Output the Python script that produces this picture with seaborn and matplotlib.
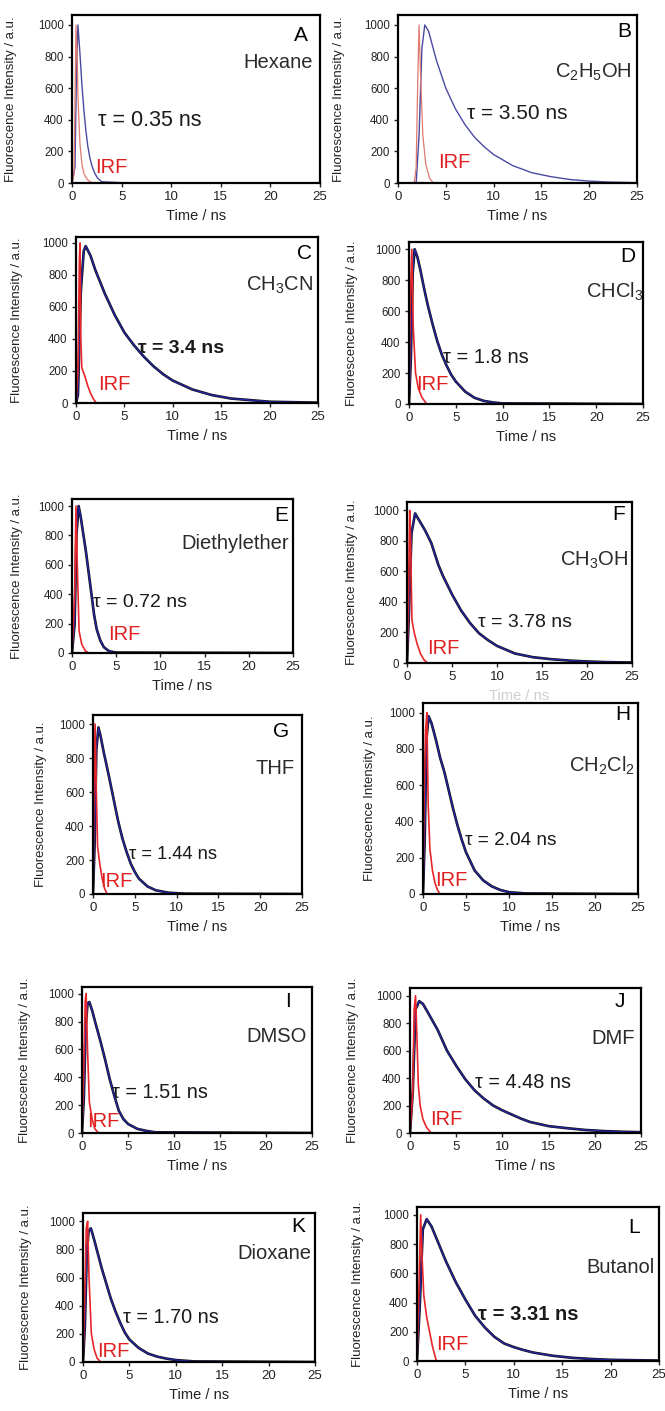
import matplotlib
matplotlib.use("Agg")
import matplotlib.pyplot as plt
import seaborn as sns

# ---------------- data ----------------
panel_letters = ['A', 'B', 'C', 'D', 'E', 'F', 'G', 'H', 'I', 'J', 'K', 'L']
solvents = ['Hexane', r'C$_\mathrm{2}$H$_\mathrm{5}$OH', r'CH$_\mathrm{3}$CN', r'CHCl$_\mathrm{3}$',
            'Diethylether', r'CH$_\mathrm{3}$OH', 'THF', r'CH$_\mathrm{2}$Cl$_\mathrm{2}$',
            'DMSO', 'DMF', 'Dioxane', 'Butanol']
tau_labels = ['τ = 0.35 ns', 'τ = 3.50 ns', 'τ = 3.4 ns', 'τ = 1.8 ns',
              'τ = 0.72 ns', 'τ = 3.78 ns', 'τ = 1.44 ns', 'τ = 2.04 ns',
              'τ = 1.51 ns', 'τ = 4.48 ns', 'τ = 1.70 ns', 'τ = 3.31 ns']
irf_label = 'IRF'
x_ticks = [0, 5, 10, 15, 20, 25]
y_ticks = [0, 200, 400, 600, 800, 1000]

A_decay_t = [0, 0.3, 0.45, 0.6, 0.8, 1.0, 1.2, 1.4, 1.6, 1.8, 2.0, 2.3, 2.6, 3.0, 5, 25]
A_decay_I = [0, 100, 700, 1000, 820, 620, 460, 330, 230, 160, 110, 60, 30, 8, 2, 0]
A_irf_t = [0, 0.2, 0.3, 0.4, 0.5, 0.6, 0.8, 1.0, 1.2, 1.5, 1.8, 2.2, 25]
A_irf_I = [0, 50, 500, 1000, 850, 550, 250, 120, 60, 25, 8, 0, 0]

B_decay_t = [0, 1.9, 2.2, 2.5, 2.8, 3.2, 4, 5, 6, 7, 8, 9, 10, 12, 14, 16, 18, 20, 22, 25]
B_decay_I = [0, 0, 300, 850, 1000, 960, 780, 600, 470, 370, 290, 230, 180, 110, 65, 40, 22, 12, 6, 2]
B_irf_t = [0, 1.7, 1.9, 2.05, 2.2, 2.35, 2.6, 2.9, 3.3, 3.7, 25]
B_irf_I = [0, 0, 100, 600, 1000, 700, 300, 120, 30, 0, 0]

C_decay_t = [0, 0.2, 0.5, 0.8, 1.0, 1.5, 2, 3, 4, 5, 6, 7, 8, 9, 10, 12, 14, 16, 20, 25]
C_decay_I = [0, 50, 700, 950, 980, 920, 830, 680, 550, 440, 360, 290, 230, 180, 140, 85, 50, 28, 8, 2]
C_irf_t = [0, 0.2, 0.35, 0.42, 0.5, 0.6, 0.9, 1.2, 1.5, 1.8, 2.1, 25]
C_irf_I = [0, 200, 900, 1000, 400, 220, 170, 110, 60, 25, 0, 0]

D_decay_t = [0, 0.2, 0.4, 0.6, 0.9, 1.2, 1.6, 2, 2.5, 3, 3.5, 4, 4.5, 5, 6, 7, 8, 9, 10, 25]
D_decay_I = [0, 300, 850, 1000, 950, 870, 750, 640, 520, 410, 320, 250, 190, 145, 80, 40, 20, 10, 4, 0]
D_irf_t = [0, 0.15, 0.3, 0.45, 0.7, 1.0, 1.4, 1.9, 25]
D_irf_I = [0, 700, 1000, 500, 200, 100, 40, 0, 0]

E_decay_t = [0, 0.3, 0.5, 0.75, 1.0, 1.3, 1.6, 1.9, 2.2, 2.5, 2.8, 3.2, 3.6, 4.2, 5, 25]
E_decay_I = [0, 200, 800, 1000, 920, 800, 680, 540, 400, 260, 160, 85, 40, 12, 3, 0]
E_irf_t = [0, 0.3, 0.45, 0.6, 0.8, 1.1, 1.5, 1.9, 25]
E_irf_I = [0, 400, 1000, 600, 150, 60, 15, 0, 0]

F_decay_t = [0, 0.2, 0.5, 0.9, 1.3, 2, 2.7, 3.5, 4, 5, 6, 7, 8, 9, 10, 12, 14, 16, 18, 20, 22, 25]
F_decay_I = [0, 300, 850, 980, 940, 870, 786, 640, 570, 450, 345, 262, 195, 150, 112, 62, 38, 25, 16, 10, 6, 3]
F_irf_t = [0, 0.15, 0.3, 0.4, 0.55, 0.8, 1.1, 1.5, 1.9, 2.3, 25]
F_irf_I = [0, 400, 1000, 800, 280, 200, 130, 60, 20, 0, 0]

G_decay_t = [0, 0.2, 0.4, 0.65, 0.9, 1.3, 1.7, 2.0, 2.5, 3.0, 3.5, 4.0, 4.5, 5, 5.5, 6.5, 7.5, 9, 11, 25]
G_decay_I = [0, 300, 850, 980, 930, 830, 740, 670, 550, 430, 330, 250, 180, 130, 90, 45, 22, 8, 2, 0]
G_irf_t = [0, 0.1, 0.25, 0.4, 0.55, 0.8, 1.1, 1.4, 1.7, 25]
G_irf_I = [0, 500, 1000, 600, 280, 180, 90, 30, 0, 0]

H_decay_t = [0, 0.2, 0.4, 0.65, 1.0, 1.5, 2, 2.5, 3, 3.5, 4, 4.5, 5, 5.5, 6, 7, 8, 9, 10, 12, 25]
H_decay_I = [0, 300, 850, 980, 940, 850, 750, 670, 570, 470, 380, 300, 230, 180, 130, 75, 42, 22, 10, 3, 0]
H_irf_t = [0, 0.15, 0.3, 0.45, 0.6, 0.8, 1.1, 1.4, 1.7, 2.0, 25]
H_irf_I = [0, 600, 900, 1000, 500, 250, 130, 60, 20, 0, 0]

I_decay_t = [0, 0.2, 0.4, 0.6, 0.8, 1.1, 1.5, 2.0, 2.5, 3.0, 3.5, 4.0, 4.5, 5.0, 6, 7, 8, 25]
I_decay_I = [0, 250, 750, 930, 940, 880, 780, 660, 530, 390, 270, 160, 100, 65, 30, 15, 5, 0]
I_irf_t = [0, 0.2, 0.35, 0.45, 0.6, 0.8, 1.1, 1.4, 1.8, 25]
I_irf_I = [0, 500, 950, 1000, 600, 220, 100, 30, 0, 0]

J_decay_t = [0, 0.3, 0.6, 1.0, 1.4, 2, 3, 4, 5, 6, 7, 8, 9, 10, 11, 12, 13, 15, 17, 19, 21, 23, 25]
J_decay_I = [0, 300, 900, 960, 940, 870, 750, 600, 490, 390, 310, 250, 200, 165, 135, 105, 80, 50, 35, 22, 14, 9, 6]
J_irf_t = [0, 0.3, 0.45, 0.6, 0.75, 0.9, 1.1, 1.4, 1.8, 2.3, 25]
J_irf_I = [0, 300, 900, 1000, 700, 350, 200, 100, 40, 0, 0]

K_decay_t = [0, 0.2, 0.4, 0.6, 0.85, 1.2, 1.6, 2.0, 2.5, 3.0, 3.5, 4.0, 4.5, 5, 6, 7, 8, 9, 10, 12, 25]
K_decay_I = [0, 250, 750, 930, 950, 870, 770, 670, 560, 450, 360, 280, 210, 160, 100, 60, 38, 24, 14, 4, 0]
K_irf_t = [0, 0.2, 0.35, 0.5, 0.65, 0.9, 1.2, 1.5, 1.9, 25]
K_irf_I = [0, 500, 950, 1000, 600, 200, 90, 30, 0, 0]

L_decay_t = [0, 0.3, 0.6, 1.0, 1.5, 2, 3, 4, 5, 6, 7, 8, 9, 10, 11, 12, 14, 16, 18, 20, 25]
L_decay_I = [0, 400, 900, 970, 920, 840, 680, 540, 420, 310, 230, 165, 120, 95, 75, 58, 36, 22, 14, 8, 3]
L_irf_t = [0, 0.2, 0.38, 0.5, 0.7, 1.0, 1.3, 1.6, 2.0, 25]
L_irf_I = [0, 500, 1000, 750, 450, 300, 200, 100, 0, 0]

decays = {
    'A': (A_decay_t, A_decay_I, A_irf_t, A_irf_I),
    'B': (B_decay_t, B_decay_I, B_irf_t, B_irf_I),
    'C': (C_decay_t, C_decay_I, C_irf_t, C_irf_I),
    'D': (D_decay_t, D_decay_I, D_irf_t, D_irf_I),
    'E': (E_decay_t, E_decay_I, E_irf_t, E_irf_I),
    'F': (F_decay_t, F_decay_I, F_irf_t, F_irf_I),
    'G': (G_decay_t, G_decay_I, G_irf_t, G_irf_I),
    'H': (H_decay_t, H_decay_I, H_irf_t, H_irf_I),
    'I': (I_decay_t, I_decay_I, I_irf_t, I_irf_I),
    'J': (J_decay_t, J_decay_I, J_irf_t, J_irf_I),
    'K': (K_decay_t, K_decay_I, K_irf_t, K_irf_I),
    'L': (L_decay_t, L_decay_I, L_irf_t, L_irf_I),
}

# ---------------- layout (pixels of a 665 x 1411 canvas) ----------------
W, H = 665, 1411
boxes = {  # left, top, right, bottom
    'A': (72, 15, 320, 183), 'B': (398, 15, 637, 183),
    'C': (76, 237, 318, 403), 'D': (409, 242, 643, 404),
    'E': (72, 499, 293, 653), 'F': (407, 502, 632, 663),
    'G': (93, 715, 302, 894), 'H': (423, 703, 638, 894),
    'I': (82, 987, 312, 1133), 'J': (410, 988, 641, 1133),
    'K': (83, 1213, 315, 1362), 'L': (417, 1207, 659, 1361),
}
ytop = {'A': 1063, 'B': 1063, 'C': 1037, 'D': 1047, 'E': 1048, 'F': 1055,
        'G': 1053, 'H': 1053, 'I': 1048, 'J': 1056, 'K': 1059, 'L': 1053}
# axes-fraction positions: letter (right, center), solvent (right, center), tau (left, center), IRF (left, center)
txt = {
    'A': ((0.95, 0.88), (0.97, 0.72), (0.105, 0.375), (0.093, 0.09)),
    'B': ((0.978, 0.90), (0.978, 0.66), (0.287, 0.415), (0.169, 0.12)),
    'C': ((0.974, 0.90), (0.98, 0.71), (0.257, 0.33), (0.092, 0.11)),
    'D': ((0.966, 0.91), (1.0, 0.69), (0.147, 0.29), (0.03, 0.12)),
    'E': ((0.98, 0.896), (0.98, 0.71), (0.094, 0.33), (0.164, 0.117)),
    'F': ((0.969, 0.92), (0.984, 0.64), (0.317, 0.25), (0.088, 0.09)),
    'G': ((0.94, 0.91), (0.967, 0.70), (0.17, 0.22), (0.033, 0.07)),
    'H': ((0.963, 0.94), (0.986, 0.67), (0.195, 0.28), (0.056, 0.07)),
    'I': ((0.91, 0.90), (0.977, 0.66), (0.129, 0.28), (0.023, 0.08)),
    'J': ((0.93, 0.905), (0.974, 0.65), (0.28, 0.35), (0.087, 0.095)),
    'K': ((0.96, 0.91), (0.985, 0.73), (0.174, 0.30), (0.059, 0.07)),
    'L': ((0.92, 0.87), (0.983, 0.61), (0.253, 0.30), (0.079, 0.105)),
}
tau_size = {'A': 15.5, 'B': 15, 'C': 14, 'D': 14.5, 'E': 14, 'F': 14, 'G': 13.2,
            'H': 13.7, 'I': 14.3, 'J': 14.3, 'K': 14.3, 'L': 14.5}
bold_tau = {'C', 'L'}

# ---------------- style ----------------
sns.set_style("white")
plt.rcParams['font.family'] = ['Liberation Sans', 'DejaVu Sans']
plt.rcParams['mathtext.fontset'] = 'custom'
plt.rcParams['mathtext.rm'] = 'Liberation Sans'
plt.rcParams['mathtext.it'] = 'Liberation Sans:italic'
plt.rcParams['mathtext.bf'] = 'Liberation Sans:bold'

fig = plt.figure(figsize=(W / 100, H / 100), dpi=100)
fig.patch.set_facecolor('white')

for i, key in enumerate(panel_letters):
    l, t, r, b = boxes[key]
    ax = fig.add_axes([l / W, 1 - b / H, (r - l) / W, (b - t) / H])
    dt, dI, it, iI = decays[key]
    light = key in ('A', 'B')
    if not light:
        sns.lineplot(x=dt, y=dI, ax=ax, color='#111111', lw=1.9, sort=False, estimator=None)
    sns.lineplot(x=dt, y=dI, ax=ax, color='#4a4aa0' if light else '#2424a0',
                 lw=1.0, sort=False, estimator=None)
    sns.lineplot(x=it, y=iI, ax=ax, color='#e07a70' if light else '#e8262a',
                 lw=0.9 if light else 1.2, sort=False, estimator=None)

    ax.set_xlim(0, 25)
    ax.set_ylim(0, ytop[key])
    ax.set_xticks(x_ticks)
    ax.set_yticks(y_ticks)
    ax.tick_params(axis='x', labelsize=9.5, length=3, width=1, pad=3, direction='out',
                   colors='#222222', bottom=True)
    ax.tick_params(axis='y', labelsize=8.3, length=3, width=1, pad=3, direction='out',
                   colors='#222222', left=True)
    for s in ax.spines.values():
        s.set_visible(True)
        s.set_color('black')
        s.set_linewidth(1.6)

    ax.set_ylabel('Fluorescence Intensity / a.u.', fontsize=9.5, color='#222222')
    ax.yaxis.set_label_coords(-0.22, 0.5)
    ax.set_xlabel('Time / ns', fontsize=10.5, labelpad=4,
                  color='#cfcfcf' if key == 'F' else '#222222')

    (lx, ly), (sx, sy), (tx, ty), (rx, ry) = txt[key]
    ax.text(lx, ly, key, transform=ax.transAxes, ha='right', va='center',
            fontsize=15, color='black')
    ax.text(sx, sy, solvents[i], transform=ax.transAxes, ha='right', va='center',
            fontsize=14.5, color='#2a2a2a')
    ax.text(tx, ty, tau_labels[i], transform=ax.transAxes, ha='left', va='center',
            fontsize=tau_size[key], color='#1a1a1a',
            fontweight='bold' if key in bold_tau else 'normal')
    ax.text(rx, ry, irf_label, transform=ax.transAxes, ha='left', va='center',
            fontsize=14.5, color='#e02020')

fig.savefig('out.png', dpi=100, facecolor='white')
